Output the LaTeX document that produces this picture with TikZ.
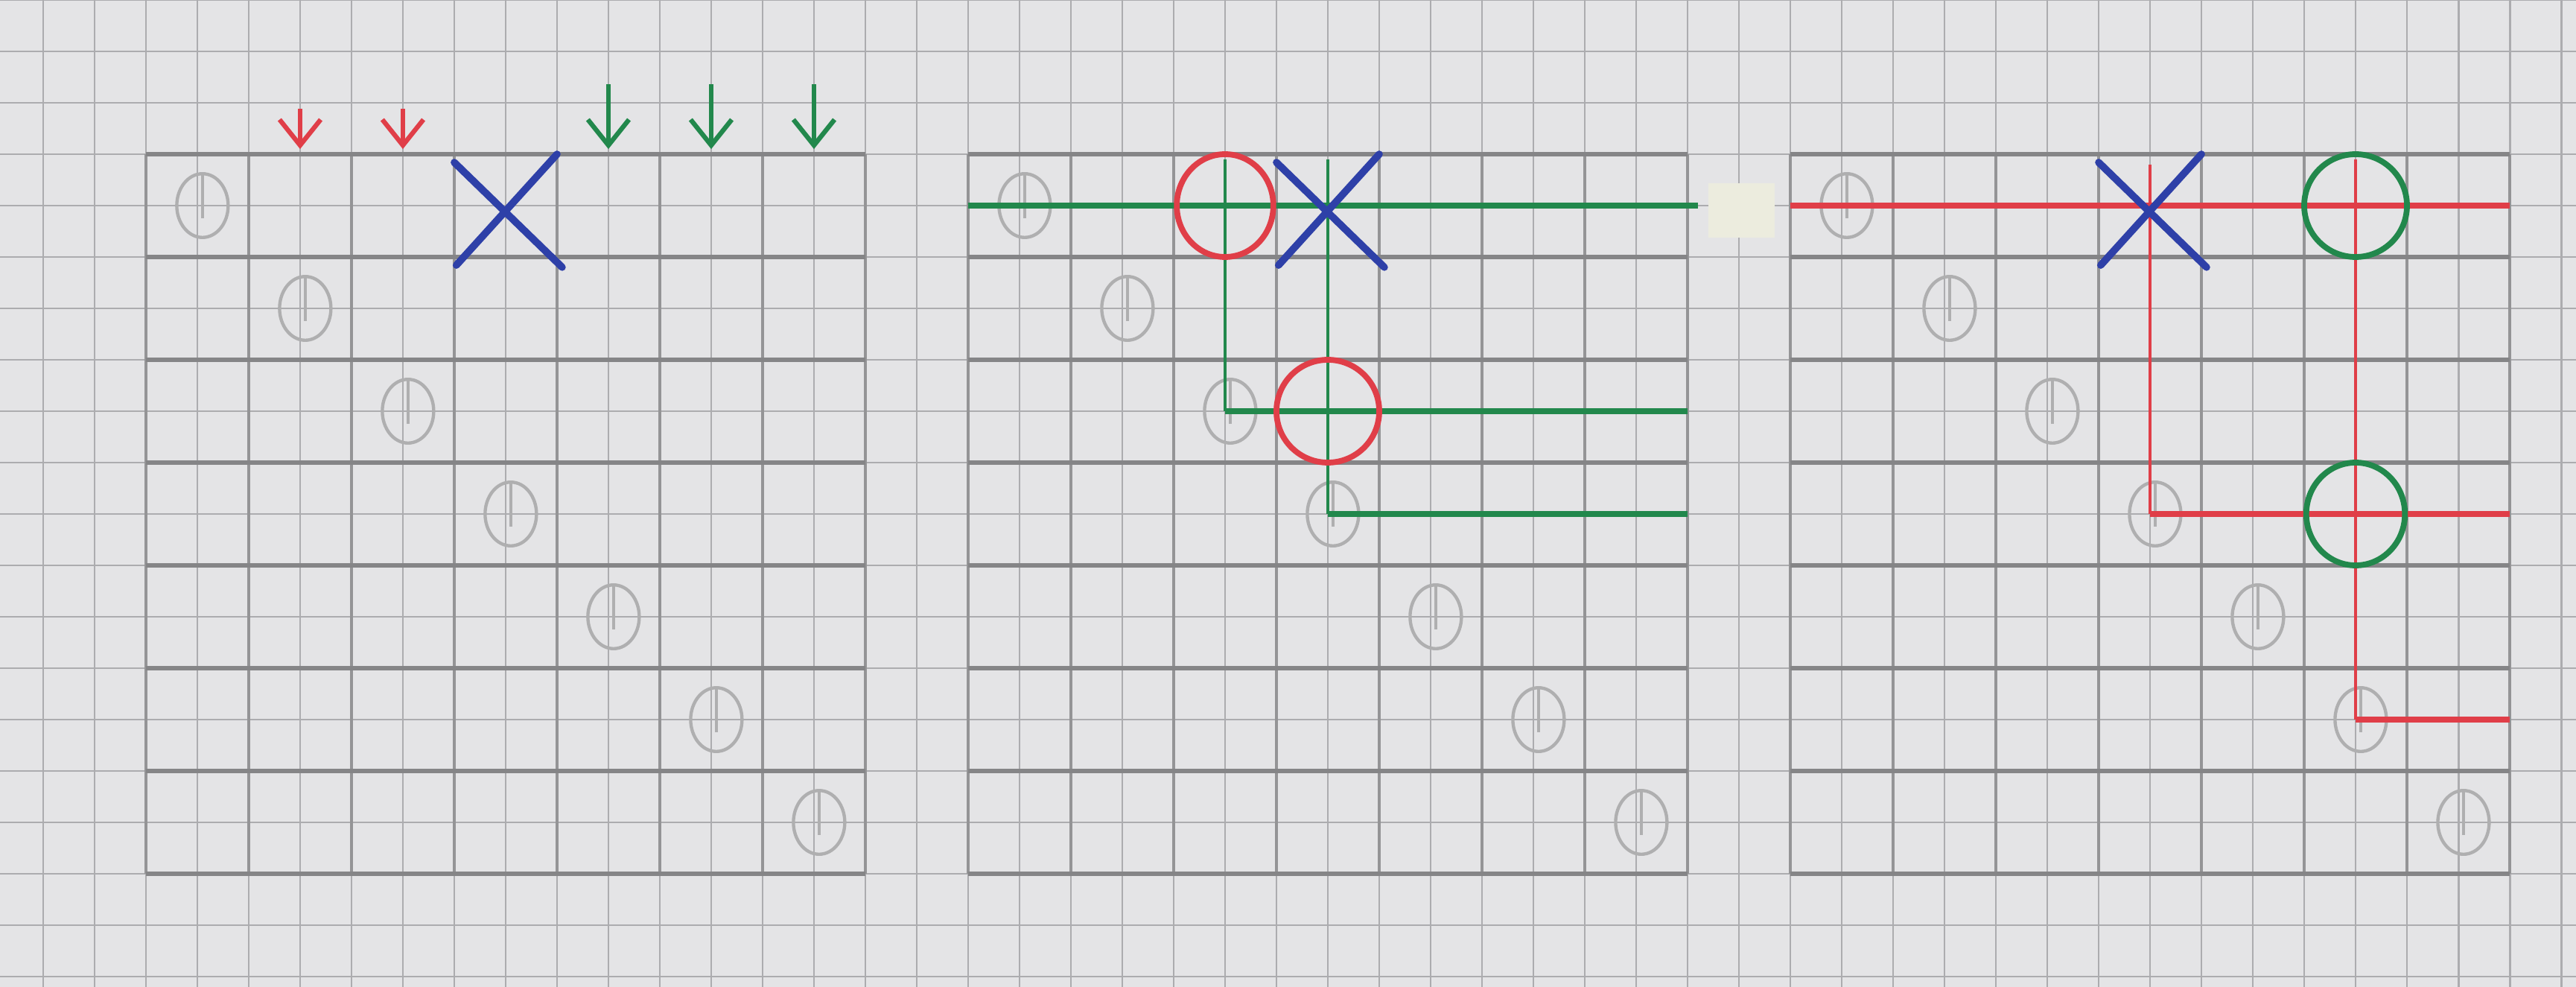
\documentclass[tikz,border=0pt]{standalone}
\usepackage{tikz}
\usetikzlibrary{arrows.meta}
\definecolor{PaperWhite}{RGB}{228,228,230}
\definecolor{PaperLine}{RGB}{172,172,175}
\definecolor{Pencil}{RGB}{148,148,150}
\definecolor{PenRed}{RGB}{224,62,72}
\definecolor{PenGreen}{RGB}{34,136,76}
\definecolor{PenBlue}{RGB}{46,64,168}
\definecolor{Tape}{RGB}{236,236,222}

\begin{document}
\begin{tikzpicture}[x=1cm,y=-1cm,
paperline/.style={draw=PaperLine, line width=0.6pt},
pencilline/.style={draw=Pencil, line width=0.9pt},
pencilrow/.style={draw=Pencil!90!black, line width=1.3pt},
omark/.style={draw=Pencil!75, line width=0.9pt},
xmark/.style={draw=PenBlue, line width=2pt, line cap=round},
redpath/.style={draw=PenRed, line width=1.6pt},
greenpath/.style={draw=PenGreen, line width=1.6pt},
thinpath/.style={line width=0.9pt},
ringred/.style={draw=PenRed, line width=1.6pt},
ringgreen/.style={draw=PenGreen, line width=1.6pt},
downarr/.style={-{Straight Barb[length=2.5mm,width=4mm]}, line width=1.3pt}
]
\useasboundingbox[fill=PaperWhite] (0,0) rectangle (25.065,9.601);
\clip (0,0) rectangle (25.065,9.601);
\begin{scope}[shift={(1.42,1.5)}]
\draw[paperline] (-2,-2) grid[step=5mm] (24,9);
\foreach \g in {0,8,16} {
  \draw[pencilline] (\g,0) grid (\g+7,7);
  \foreach \r in {0,...,7}
    \draw[pencilrow] (\g,\r) -- (\g+7,\r);
}
\fill[Tape] (15.2,0.28) rectangle (15.85,0.81);

\foreach \g in {0,8,16}
  \foreach \i in {0,...,6} {
    \draw[omark] (\g+\i+0.55,\i+0.5) ellipse[x radius=0.25, y radius=0.31];
    \draw[omark] (\g+\i+0.55,\i+0.2) -- (\g+\i+0.55,\i+0.62);
  }

\foreach \c in {1,2}
  \draw[downarr, PenRed] (\c+0.5,-0.44) -- (\c+0.5,-0.05);
\foreach \c in {4,5,6}
  \draw[downarr, PenGreen] (\c+0.5,-0.68) -- (\c+0.5,-0.05);

\draw[greenpath] (8,0.5) -- (15.1,0.5);
\draw[greenpath, thinpath] (10.5,0.05) -- (10.5,2.5);
\draw[greenpath] (10.5,2.5) -- (15,2.5);
\draw[greenpath, thinpath] (11.5,0.05) -- (11.5,3.5);
\draw[greenpath] (11.5,3.5) -- (15,3.5);

\draw[redpath] (16,0.5) -- (23,0.5);
\draw[redpath, thinpath] (19.5,0.1) -- (19.5,3.5);
\draw[redpath] (19.5,3.5) -- (23,3.5);
\draw[redpath, thinpath] (21.5,0.05) -- (21.5,5.5);
\draw[redpath] (21.5,5.5) -- (23,5.5);

\foreach \g in {0,8,16} {
  \draw[xmark] (\g+3,0.08) -- (\g+4.05,1.1);
  \draw[xmark] (\g+4,0) -- (\g+3.02,1.08);
}

\draw[ringred] (10.5,0.5) ellipse[x radius=0.47, y radius=0.5];
\draw[ringred] (11.5,2.5) ellipse[x radius=0.5, y radius=0.5];
\draw[ringgreen] (21.5,0.5) ellipse[x radius=0.5, y radius=0.5];
\draw[ringgreen] (21.5,3.5) ellipse[x radius=0.48, y radius=0.5];
\end{scope}
\end{tikzpicture}
\end{document}
